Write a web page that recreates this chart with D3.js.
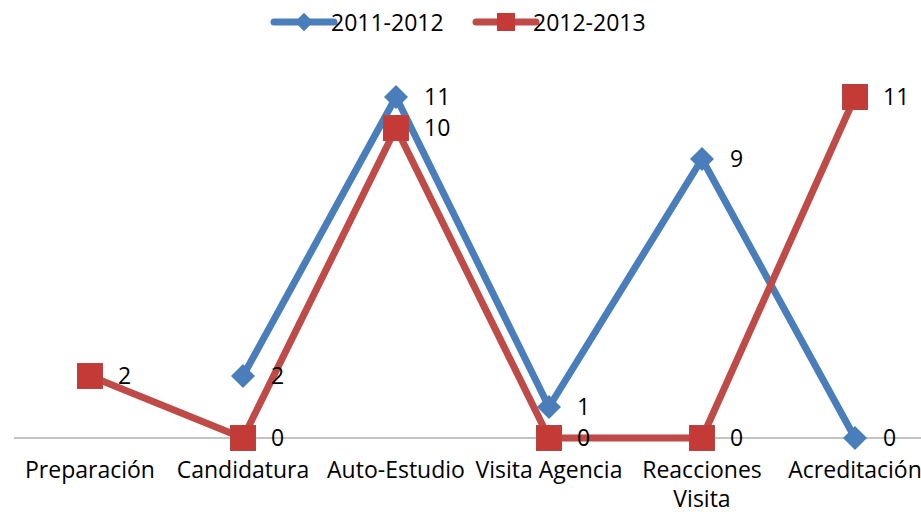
<!DOCTYPE html>
<html>
<head>
<meta charset="utf-8">
<script src="https://cdn.jsdelivr.net/npm/d3@7"></script>
<style>
  body { margin: 0; background: #fff; }
  text { font-family: "Open Sans", sans-serif; font-size: 23px; fill: #000; }
</style>
</head>
<body>
<svg class="chart" width="921" height="517"></svg>
<script>
var categories = ["Preparación", "Candidatura", "Auto-Estudio", "Visita Agencia", "Reacciones Visita", "Acreditación"];
var serie2011 = [null, 2, 11, 1, 9, 0];
var serie2012 = [2, 0, 10, 0, 0, 11];
var seriesNames = ["2011-2012", "2012-2013"];

var blue = "#4a7ebb", red = "#be4b48";

var svg = d3.select(".chart");

var x = d3.scalePoint()
  .domain(categories)
  .range([90, 855]);

var y = d3.scaleLinear()
  .domain([0, 11])
  .range([438, 97]);

// baseline axis
svg.append("line")
  .attr("x1", 14).attr("x2", 921)
  .attr("y1", y(0)).attr("y2", y(0))
  .attr("stroke", "#888").attr("stroke-width", 1.2);

// category labels
svg.selectAll(".cat")
  .data(categories)
.enter().append("text")
  .attr("class", "cat")
  .attr("text-anchor", "middle")
  .attr("x", function(d) { return x(d); })
  .attr("y", 478)
  .each(function(d) {
    var words = d === "Reacciones Visita" ? ["Reacciones", "Visita"] : [d];
    var t = d3.select(this);
    words.forEach(function(w, i) {
      t.append("tspan").attr("x", x(d)).attr("dy", i ? 29 : 0).text(w);
    });
  });

var line = d3.line()
  .defined(function(d) { return d.v !== null; })
  .x(function(d) { return x(d.c); })
  .y(function(d) { return y(d.v); });

function toPts(vals) {
  return vals.map(function(v, i) { return {c: categories[i], v: v}; });
}

var pts1 = toPts(serie2011), pts2 = toPts(serie2012);

function drawLine(pts, color) {
  svg.append("path")
    .datum(pts)
    .attr("fill", "none")
    .attr("stroke", color)
    .attr("stroke-width", 7)
    .attr("stroke-linejoin", "round")
    .attr("d", line);
}

drawLine(pts1, blue);
drawLine(pts2, red);

// markers
svg.selectAll(".dia")
  .data(pts1.filter(function(d) { return d.v !== null; }))
.enter().append("rect")
  .attr("class", "dia")
  .attr("width", 17).attr("height", 17)
  .attr("x", -8.5).attr("y", -8.5)
  .attr("fill", blue)
  .attr("transform", function(d) { return "translate(" + x(d.c) + "," + y(d.v) + ") rotate(45)"; });

svg.selectAll(".sq")
  .data(pts2)
.enter().append("rect")
  .attr("class", "sq")
  .attr("width", 25).attr("height", 25)
  .attr("x", function(d) { return x(d.c) - 12.5; })
  .attr("y", function(d) { return y(d.v) - 12.5; })
  .attr("fill", "#c43a37")
  .attr("stroke", "#b24643").attr("stroke-width", 1);

// value labels
function drawLabels(pts) {
  svg.selectAll(null)
    .data(pts.filter(function(d) { return d.v !== null; }))
  .enter().append("text")
    .attr("x", function(d) { return x(d.c) + 28; })
    .attr("y", function(d) { return y(d.v) + 8; })
    .text(function(d) { return d.v; });
}
drawLabels(pts1);
drawLabels(pts2);

// legend
var legend = [
  {name: seriesNames[0], color: blue, x: 270, shape: "dia"},
  {name: seriesNames[1], color: red, x: 472, shape: "sq"}
];
var lg = svg.selectAll(".lg").data(legend).enter().append("g")
  .attr("transform", function(d) { return "translate(" + d.x + ",22)"; });
lg.append("line")
  .attr("x1", 4).attr("x2", 64).attr("y1", 0).attr("y2", 0)
  .attr("stroke", function(d) { return d.color; })
  .attr("stroke-width", 7).attr("stroke-linecap", "round");
lg.each(function(d) {
  var g = d3.select(this);
  if (d.shape === "dia") {
    g.append("rect").attr("width", 13).attr("height", 13).attr("x", -6.5).attr("y", -6.5)
      .attr("fill", d.color).attr("transform", "translate(34,0) rotate(45)");
  } else {
    g.append("rect").attr("width", 18).attr("height", 18).attr("x", 25).attr("y", -9)
      .attr("fill", "#c43a37");
  }
});
lg.append("text")
  .attr("x", 61).attr("y", 9)
  .text(function(d) { return d.name; });
</script>
</body>
</html>
